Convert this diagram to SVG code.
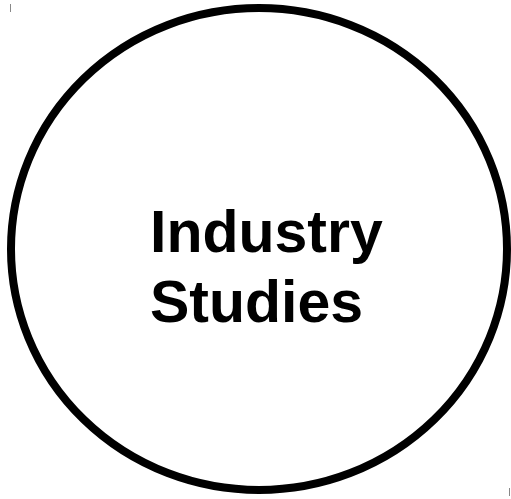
<svg xmlns="http://www.w3.org/2000/svg" width="511" height="499" viewBox="0 0 511 499">
<style>
.lbl{font-family:"Liberation Sans",Arial,sans-serif;font-weight:bold;font-size:59px;fill:#000}
.tick{stroke:#888;stroke-width:1}
</style>
<rect width="511" height="499" fill="#fff"/>
<line class="tick" x1="10.5" y1="4" x2="10.5" y2="12"/>
<line class="tick" x1="509.5" y1="488" x2="509.5" y2="496"/>
<g id="node-industry-studies">
<ellipse cx="259" cy="249" rx="248" ry="241" fill="#fff" stroke="#000" stroke-width="8"/>
<text class="lbl" x="150" y="252">Industry</text>
<text class="lbl" x="150" y="322">Studies</text>
</g>
<g id="connectors"/>
</svg>
